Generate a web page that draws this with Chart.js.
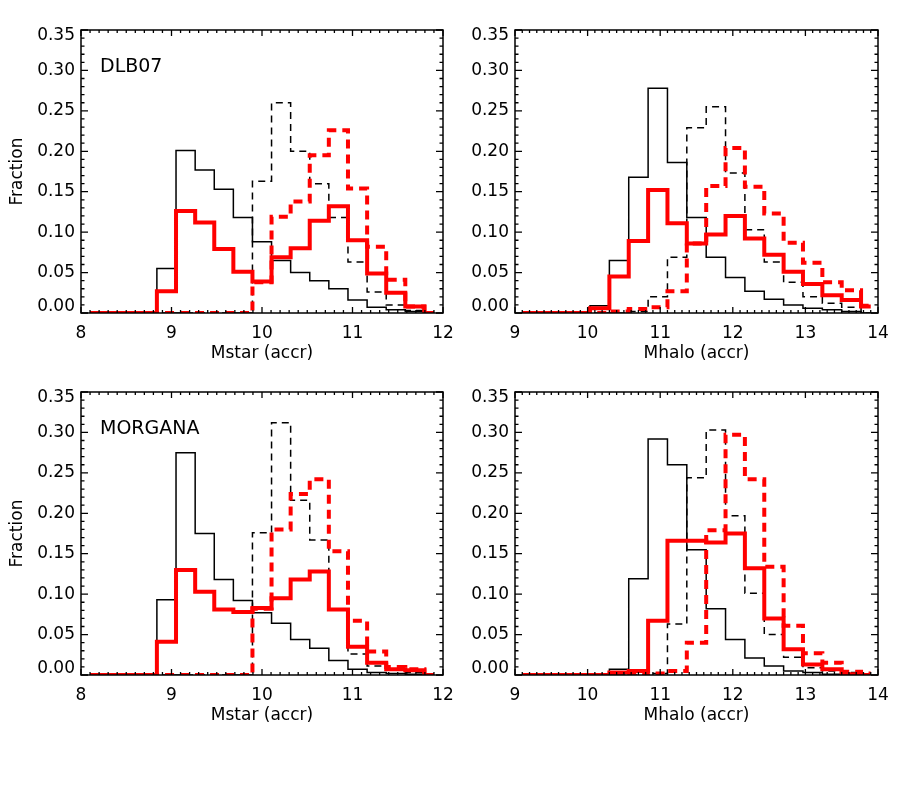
<!DOCTYPE html>
<html>
<head>
<meta charset="utf-8">
<title>Fraction histograms</title>
<script src="https://cdn.jsdelivr.net/npm/chart.js@4"></script>
<style>
  html, body { margin: 0; padding: 0; background: #fff; }
  #page { position: relative; width: 904px; height: 786px; background: #fff; }
  canvas { position: absolute; }
</style>
</head>
<body>
<div id="page">
  <canvas id="dlbMstar" width="462" height="362" style="left:0;top:0"></canvas>
  <canvas id="dlbMhalo" width="452" height="362" style="left:452px;top:0"></canvas>
  <canvas id="morMstar" width="462" height="362" style="left:0;top:362px"></canvas>
  <canvas id="morMhalo" width="452" height="362" style="left:452px;top:362px"></canvas>
</div>
<script>
// bin centres
const mstarBins = [8.100, 8.311, 8.522, 8.733, 8.944, 9.156, 9.367, 9.578, 9.789, 10.000,
                   10.211, 10.422, 10.633, 10.844, 11.056, 11.267, 11.478, 11.689, 11.900];
const mhaloBins = [9.100, 9.367, 9.633, 9.900, 10.167, 10.433, 10.700, 10.967, 11.233, 11.500,
                   11.767, 12.033, 12.300, 12.567, 12.833, 13.100, 13.367, 13.633, 13.900];

const yTicks = [0, 0.05, 0.10, 0.15, 0.20, 0.25, 0.30, 0.35];

// DLB07, Mstar
const dlbMstarBlack     = [0, 0, 0, 0, 0.055, 0.201, 0.177, 0.153, 0.118, 0.088, 0.065, 0.050, 0.040, 0.030, 0.016, 0.007, 0.004, 0.002, 0];
const dlbMstarBlackDash = [0, 0, 0, 0, 0, 0, 0, 0, 0, 0.163, 0.260, 0.200, 0.160, 0.118, 0.063, 0.026, 0.010, 0.003, 0];
const dlbMstarRed       = [0, 0, 0, 0, 0.027, 0.126, 0.112, 0.079, 0.051, 0.039, 0.069, 0.080, 0.114, 0.132, 0.090, 0.049, 0.025, 0.008, 0];
const dlbMstarRedDash   = [0, 0, 0, 0, 0, 0, 0, 0, 0, 0.038, 0.119, 0.138, 0.195, 0.226, 0.154, 0.082, 0.041, 0.008, 0];

// DLB07, Mhalo
const dlbMhaloBlack     = [0, 0, 0, 0, 0.009, 0.065, 0.168, 0.278, 0.186, 0.118, 0.069, 0.044, 0.027, 0.017, 0.010, 0.006, 0.004, 0.002, 0];
const dlbMhaloBlackDash = [0, 0, 0, 0, 0, 0, 0.002, 0.020, 0.069, 0.229, 0.255, 0.173, 0.103, 0.063, 0.038, 0.020, 0.012, 0.007, 0];
const dlbMhaloRed       = [0, 0, 0, 0, 0.006, 0.045, 0.089, 0.152, 0.111, 0.086, 0.097, 0.120, 0.092, 0.072, 0.051, 0.036, 0.022, 0.016, 0.008];
const dlbMhaloRedDash   = [0, 0, 0, 0, 0, 0.002, 0.005, 0.007, 0.027, 0.086, 0.157, 0.204, 0.156, 0.123, 0.087, 0.062, 0.038, 0.028, 0.009];

// MORGANA, Mstar
const morMstarBlack     = [0, 0, 0, 0, 0.093, 0.275, 0.175, 0.118, 0.092, 0.077, 0.064, 0.044, 0.033, 0.018, 0.007, 0.003, 0.002, 0.001, 0];
const morMstarBlackDash = [0, 0, 0, 0, 0, 0, 0, 0, 0, 0.176, 0.312, 0.216, 0.167, 0.081, 0.026, 0.011, 0.006, 0.003, 0];
const morMstarRed       = [0, 0, 0, 0, 0.041, 0.130, 0.103, 0.081, 0.078, 0.083, 0.095, 0.118, 0.128, 0.081, 0.035, 0.015, 0.007, 0.006, 0];
const morMstarRedDash   = [0, 0, 0, 0, 0, 0, 0, 0, 0, 0.082, 0.180, 0.224, 0.242, 0.153, 0.067, 0.029, 0.010, 0.007, 0];

// MORGANA, Mhalo
const morMhaloBlack     = [0, 0, 0, 0, 0, 0.007, 0.119, 0.292, 0.260, 0.155, 0.082, 0.044, 0.021, 0.011, 0.005, 0.003, 0.001, 0, 0];
const morMhaloBlackDash = [0, 0, 0, 0, 0, 0, 0, 0.002, 0.063, 0.244, 0.303, 0.197, 0.101, 0.050, 0.022, 0.009, 0.005, 0.003, 0];
const morMhaloRed       = [0, 0, 0, 0, 0, 0.003, 0.005, 0.067, 0.166, 0.166, 0.164, 0.175, 0.132, 0.070, 0.032, 0.013, 0.007, 0.001, 0];
const morMhaloRedDash   = [0, 0, 0, 0, 0, 0, 0, 0.002, 0.005, 0.040, 0.179, 0.297, 0.242, 0.134, 0.061, 0.027, 0.015, 0.004, 0.002];

const FONT = 'DejaVu Sans';

// box with inward ticks on all four sides, y labels kept inside the box ends, panel label
const idlFrame = {
    id: 'idlFrame',
    afterDraw(chart, args, opts) {
        const { ctx, chartArea: a } = chart;
        const x = chart.scales.x, y = chart.scales.y;
        ctx.save();
        ctx.strokeStyle = '#000';
        ctx.lineWidth = 1.3;
        ctx.beginPath();
        const nx = Math.round((x.max - x.min) * 10);
        for (let i = 0; i <= nx; i++) {
            const px = x.getPixelForValue(x.min + i / 10);
            const len = i % 10 === 0 ? 6 : 3;
            ctx.moveTo(px, a.bottom); ctx.lineTo(px, a.bottom - len);
            ctx.moveTo(px, a.top); ctx.lineTo(px, a.top + len);
        }
        for (let i = 0; i <= 35; i++) {
            const py = y.getPixelForValue(i / 100);
            const len = i % 5 === 0 ? 7 : 3.5;
            ctx.moveTo(a.left, py); ctx.lineTo(a.left + len, py);
            ctx.moveTo(a.right, py); ctx.lineTo(a.right - len, py);
        }
        ctx.stroke();
        ctx.lineWidth = 1.5;
        ctx.strokeRect(a.left, a.top, a.right - a.left, a.bottom - a.top);

        ctx.fillStyle = '#000';
        ctx.font = '17px "' + FONT + '"';
        ctx.textAlign = 'right';
        ctx.textBaseline = 'middle';
        y.ticks.forEach(t => {
            let py = y.getPixelForValue(t.value);
            py = Math.min(Math.max(py, a.top + 6), a.bottom - 6);
            ctx.fillText(t.value.toFixed(2), a.left - 6, py);
        });

        if (opts.label) {
            ctx.font = '19px "' + FONT + '"';
            ctx.textBaseline = 'alphabetic';
            ctx.textAlign = 'left';
            ctx.fillText(opts.label, a.left + 19, a.top + 42);
        }
        ctx.restore();
    }
};

function step(label, bins, values, color, width, dash) {
    return {
        label: label,
        data: bins.map((b, i) => ({ x: b, y: values[i] })),
        borderColor: color,
        borderWidth: width,
        borderDash: dash,
        borderCapStyle: 'butt',
        borderJoinStyle: 'miter',
        stepped: 'middle',
        pointRadius: 0,
        fill: false
    };
}

function makePanel(id, bins, xMin, xMax, xTitle, series, label, isLeft) {
    const ctx = document.getElementById(id).getContext('2d');
    new Chart(ctx, {
        type: 'line',
        data: {
            datasets: [
                step('red dashed', bins, series[3], 'rgb(255,0,0)', 4, [9, 6]),
                step('red', bins, series[2], 'rgb(255,0,0)', 4, []),
                step('black dashed', bins, series[1], '#000', 1.5, [7, 5]),
                step('black', bins, series[0], '#000', 1.5, [])
            ]
        },
        options: {
            responsive: false,
            devicePixelRatio: 1,
            animation: false,
            layout: { padding: { top: 30, right: isLeft ? 19 : 26, left: 0, bottom: 0 } },
            plugins: {
                legend: { display: false },
                tooltip: { enabled: false },
                idlFrame: { label: label }
            },
            scales: {
                x: {
                    type: 'linear',
                    min: xMin,
                    max: xMax,
                    grid: { display: false, drawTicks: false },
                    border: { display: false },
                    ticks: {
                        stepSize: 1,
                        autoSkip: false,
                        maxRotation: 0,
                        padding: 10,
                        color: '#000',
                        font: { family: FONT, size: 17 },
                        callback: v => String(v)
                    },
                    title: {
                        display: true,
                        text: xTitle,
                        color: '#000',
                        font: { family: FONT, size: 17, lineHeight: 1 },
                        padding: { top: 0, bottom: 0 }
                    },
                    afterFit: s => { s.height = 49; s.paddingLeft = 0; s.paddingRight = 0; }
                },
                y: {
                    min: 0,
                    max: 0.35,
                    afterBuildTicks: s => { s.ticks = yTicks.map(v => ({ value: v })); },
                    grid: { display: false, drawTicks: false },
                    border: { display: false },
                    ticks: { display: false },
                    title: {
                        display: isLeft,
                        text: 'Fraction',
                        color: '#000',
                        font: { family: FONT, size: 17, lineHeight: 1 },
                        padding: { top: 9, bottom: 0 }
                    },
                    afterFit: s => { s.width = isLeft ? 81 : 63; s.paddingTop = 0; s.paddingBottom = 0; }
                }
            }
        },
        plugins: [idlFrame]
    });
}

makePanel('dlbMstar', mstarBins, 8, 12, 'Mstar (accr)',
    [dlbMstarBlack, dlbMstarBlackDash, dlbMstarRed, dlbMstarRedDash], 'DLB07', true);
makePanel('dlbMhalo', mhaloBins, 9, 14, 'Mhalo (accr)',
    [dlbMhaloBlack, dlbMhaloBlackDash, dlbMhaloRed, dlbMhaloRedDash], null, false);
makePanel('morMstar', mstarBins, 8, 12, 'Mstar (accr)',
    [morMstarBlack, morMstarBlackDash, morMstarRed, morMstarRedDash], 'MORGANA', true);
makePanel('morMhalo', mhaloBins, 9, 14, 'Mhalo (accr)',
    [morMhaloBlack, morMhaloBlackDash, morMhaloRed, morMhaloRedDash], null, false);
</script>
</body>
</html>
